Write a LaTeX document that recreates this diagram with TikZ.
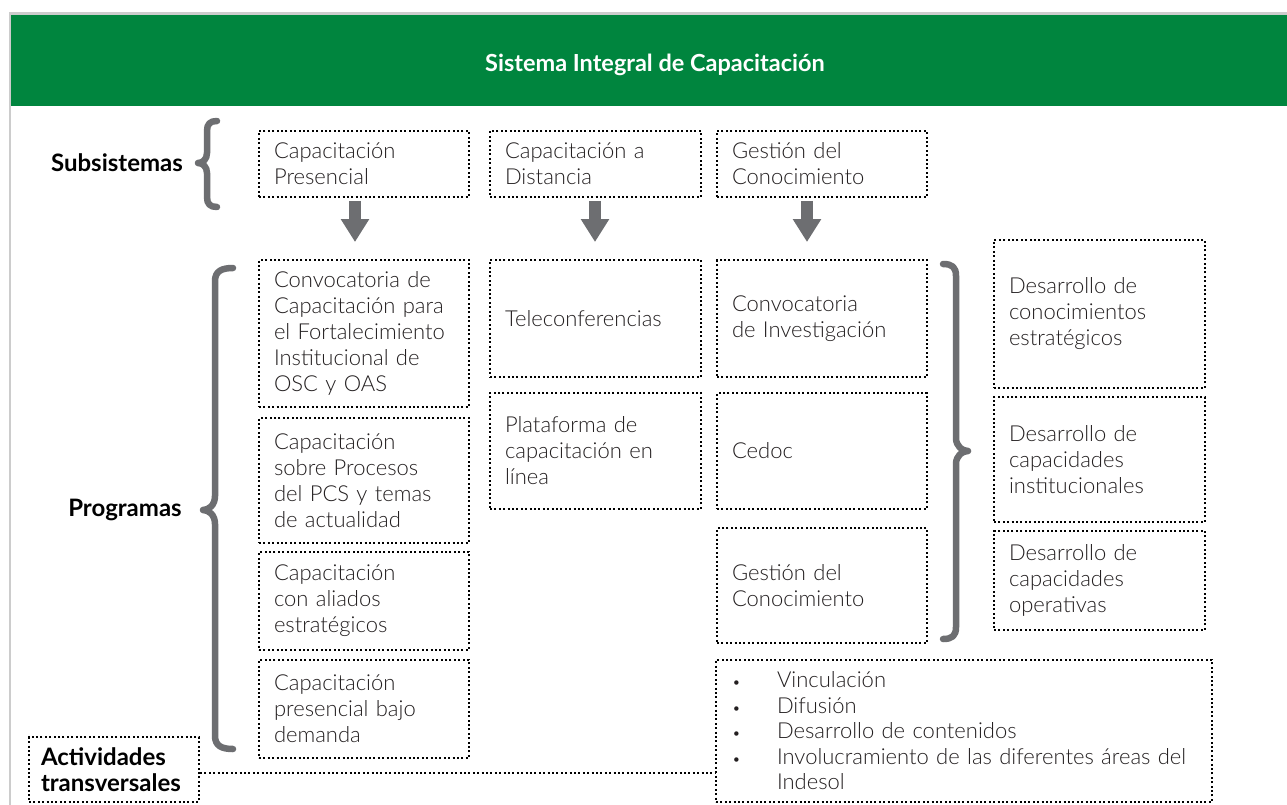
\documentclass[tikz,border=0pt]{standalone}
\usepackage{fontspec}
\setmainfont{Lato Light}[BoldFont={Lato Bold}]
\usetikzlibrary{arrows.meta}
\definecolor{sicgreen}{RGB}{0,133,62}
\definecolor{bracegray}{RGB}{109,110,113}
\definecolor{framegray}{RGB}{204,204,204}
\definecolor{txt}{RGB}{35,31,32}
\tikzset{
  dotbox/.style={draw=black, line width=2pt, dash pattern=on 2pt off 2.4pt,
    inner xsep=15pt, inner ysep=0pt, align=left, text=txt,
    font=\fontsize{22}{26}\selectfont},
  bigarr/.style={draw=bracegray, line width=12pt, -{Triangle[width=27pt,length=23pt]}},
  bracepath/.style={draw=bracegray, line width=6.5pt, line cap=round, line join=round},
  lbl/.style={font=\bfseries\fontsize{24}{28}\selectfont, align=left, text=black},
  dotline/.style={draw=black, line width=2pt, dash pattern=on 2pt off 2.4pt}
}
\newcommand\mkbox[6]{%
  \pgfmathsetmacro\bw{#4-#2}%
  \pgfmathsetmacro\bh{#5-#3}%
  \pgfmathsetmacro\tw{#4-#2-30}%
  \pgfmathsetmacro\cx{(#2+#4)/2}%
  \pgfmathsetmacro\cy{(#3+#5)/2}%
  \node[dotbox, minimum width=\bw pt, minimum height=\bh pt, text width=\tw pt] (#1) at (\cx,\cy) {#6};}
\newcommand\smbul{\makebox[45pt][l]{\fontsize{15}{15}\selectfont\textbullet}}
\begin{document}
\begin{tikzpicture}[x=1pt,y=-1pt]
\useasboundingbox (0,0) rectangle (1287,805);
\fill[white] (0,0) rectangle (1287,805);
% frame and header
\draw[framegray, line width=2.5pt] (10,805) -- (10,13.5) -- (1287,13.5);
\fill[sicgreen] (11,15) rectangle (1287,106);
\node[font=\bfseries\fontsize{23.5}{28}\selectfont, text=white] (title) at (655,65) {Sistema Integral de Capacitación};

% labels
\node[lbl] (lsub) at (117,163) {Subsistemas};
\node[lbl] (lprog) at (125,510) {Programas};

% subsystems
\mkbox{s1}{259}{131}{469}{197}{Capacitación\\Presencial}
\mkbox{s2}{490}{131}{701}{197}{Capacitación a\\Distancia}
\mkbox{s3}{717}{131}{927}{197}{Gestión del\\Conocimiento}

% programs column 1
\mkbox{p1}{259}{260}{469}{407}{Convocatoria de\\Capacitación para\\el Fortalecimiento\\Institucional de\\OSC y OAS}
\mkbox{p2}{259}{418}{469}{543}{Capacitación\\sobre Procesos\\del PCS y temas\\de actualidad}
\mkbox{p3}{259}{552}{469}{650}{Capacitación\\con aliados\\estratégicos}
\mkbox{p4}{259}{660}{469}{758}{Capacitación\\presencial bajo\\demanda}
% column 2
\mkbox{t1}{490}{260}{701}{377}{Teleconferencias}
\mkbox{t2}{490}{393}{701}{509}{Plataforma de\\capacitación en\\línea}
% column 3
\mkbox{g1}{717}{260}{927}{377}{Convocatoria\\de Investigación}
\mkbox{g2}{717}{393}{927}{509}{Cedoc}
\mkbox{g3}{717}{528}{927}{643}{Gestión del\\Conocimiento}
% column 4
\mkbox{d1}{994}{240}{1205}{388}{Desarrollo de\\conocimientos\\estratégicos}
\mkbox{d2}{994}{397}{1205}{522}{Desarrollo de\\capacidades\\institucionales}
\mkbox{d3}{994}{531}{1205}{630}{Desarrollo de\\capacidades\\operativas}

% transversal activities
\node[dotbox, minimum width=496pt, minimum height=142pt, inner xsep=16pt, text width=464pt,
  font=\fontsize{22}{25.5}\selectfont] (vin) at (964,731)
  {\smbul Vinculación\\
   \smbul Difusión\\
   \smbul Desarrollo de contenidos\\
   \smbul Involucramiento de las diferentes áreas del\\
   \hspace*{45pt}Indesol};
\node[dotbox, lbl, minimum width=170pt, minimum height=65pt, inner xsep=12pt, text width=146pt,
  font=\bfseries\fontsize{24}{26}\selectfont] (act) at (114,769.5) {Actividades\\transversales};
\draw[dotline] ([yshift=-3.5pt]act.east) -- ([yshift=-3.5pt]act.east -| vin.west);

% arrows
\draw[bigarr] ([shift={(-9,3)}]s1.south) -- ([shift={(-9,-17)}]p1.north);
\draw[bigarr] ([shift={(-0.5,3)}]s2.south) -- ([shift={(-0.5,-17)}]t1.north);
\draw[bigarr] ([shift={(-15,3)}]s3.south) -- ([shift={(-15,-17)}]g1.north);

% braces
\draw[bracepath] (217,121) .. controls (210,121) and (207,124) .. (207,131) -- (207,153)
  .. controls (207,159) and (203,163) .. (198,163) .. controls (203,163) and (207,167) .. (207,173)
  -- (207,197) .. controls (207,204) and (210,207) .. (217,207);
\draw[bracepath] (233,268) .. controls (222,268) and (215,271) .. (215,281) -- (215,496)
  .. controls (215,505) and (209,510) .. (203,510) .. controls (209,510) and (215,515) .. (215,524)
  -- (215,736) .. controls (215,746) and (222,749) .. (233,749);
\draw[bracepath] (943,264) .. controls (952,264) and (956,267) .. (956,276) -- (956,438)
  .. controls (956,446) and (962,451) .. (968,451) .. controls (962,451) and (956,456) .. (956,464)
  -- (956,627) .. controls (956,636) and (952,639) .. (943,639);
\end{tikzpicture}
\end{document}
